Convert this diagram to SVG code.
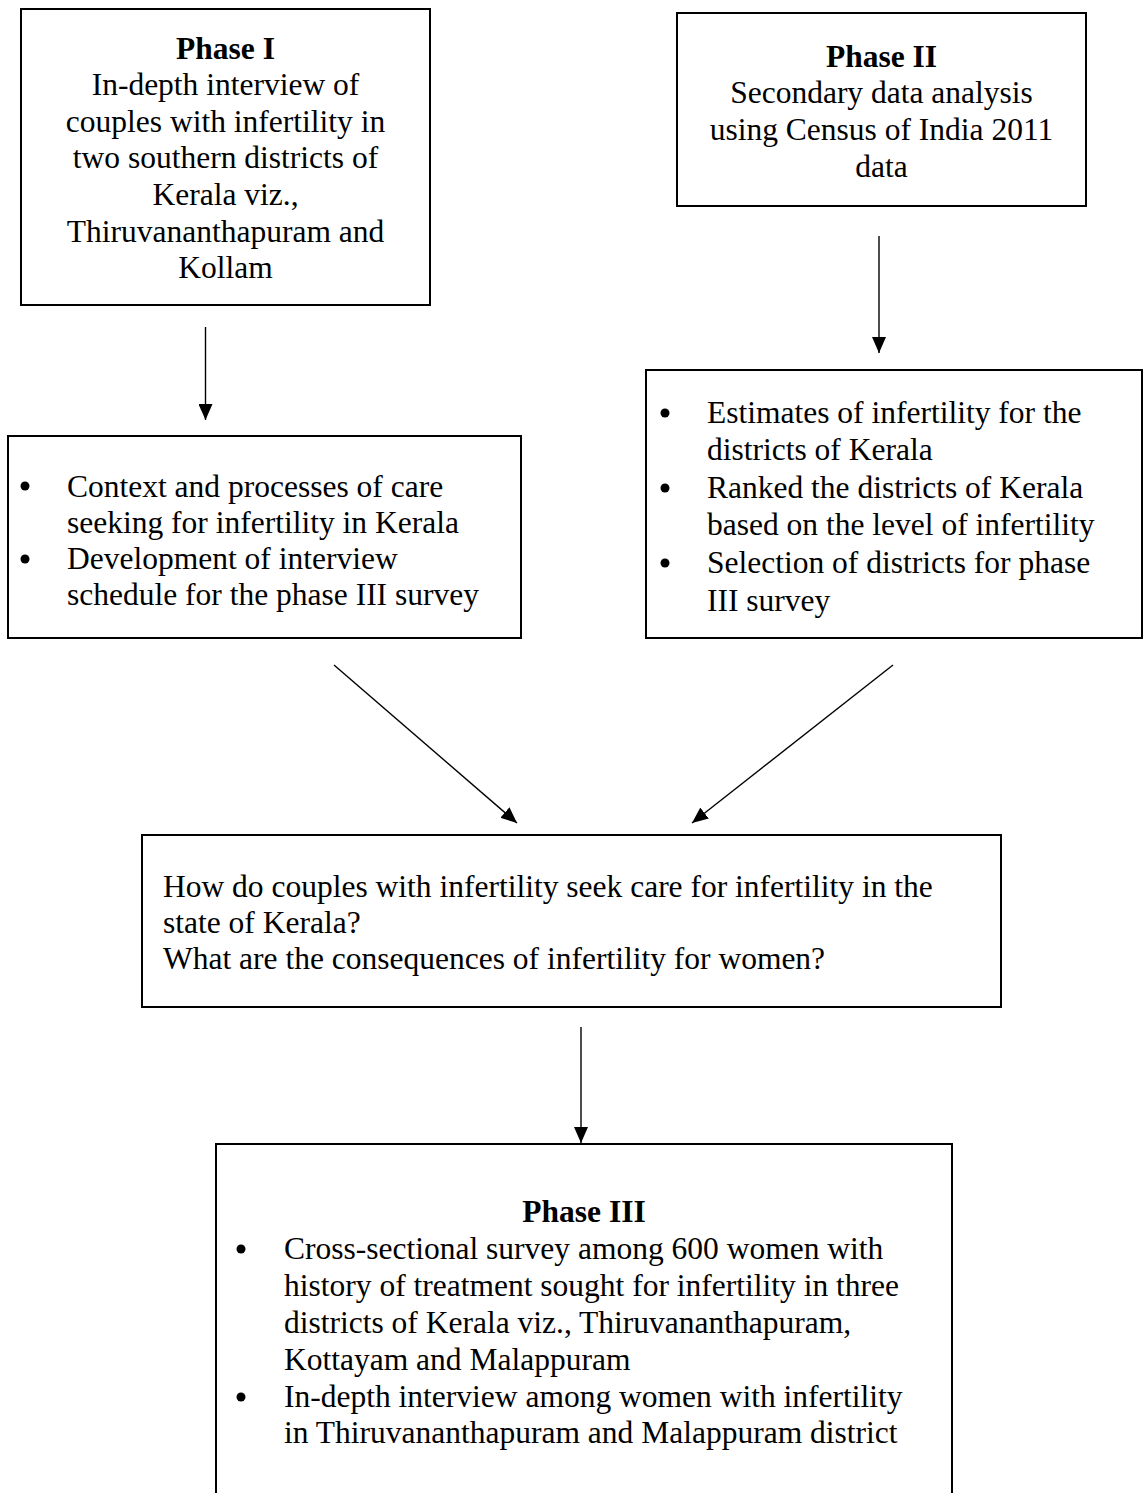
<svg xmlns="http://www.w3.org/2000/svg" width="1143" height="1493" viewBox="0 0 1143 1493">
  <style>
    .box { fill: #ffffff; stroke: #000000; stroke-width: 2; }
    .t { font-family: "Liberation Serif", "Times New Roman", serif; font-size: 31.5px; fill: #000000; }
    .b { font-weight: bold; }
    .c { text-anchor: middle; }
    .dot { fill: #000000; }
    .edge { stroke: #000000; stroke-width: 1.4; fill: none; marker-end: url(#head); }
  </style>
  <defs>
    <marker id="head" viewBox="0 0 16 14" refX="16" refY="7" markerWidth="16" markerHeight="14" markerUnits="userSpaceOnUse" orient="auto">
      <path d="M0,0 L16,7 L0,14 Z" fill="#000000"/>
    </marker>
  </defs>
  <rect width="1143" height="1493" fill="#ffffff"/>

  <!-- Phase I -->
  <g id="phase1">
    <rect class="box" x="21" y="9" width="409" height="296"/>
    <text class="t b c" x="225.5" y="59">Phase I</text>
    <text class="t c" x="225.5" y="95">In-depth interview of</text>
    <text class="t c" x="225.5" y="132">couples with infertility in</text>
    <text class="t c" x="225.5" y="168">two southern districts of</text>
    <text class="t c" x="225.5" y="205">Kerala viz.,</text>
    <text class="t c" x="225.5" y="242">Thiruvananthapuram and</text>
    <text class="t c" x="225.5" y="278">Kollam</text>
  </g>

  <!-- Phase II -->
  <g id="phase2">
    <rect class="box" x="677" y="13" width="409" height="193"/>
    <text class="t b c" x="881.5" y="67">Phase II</text>
    <text class="t c" x="881.5" y="103">Secondary data analysis</text>
    <text class="t c" x="881.5" y="140">using Census of India 2011</text>
    <text class="t c" x="881.5" y="177">data</text>
  </g>

  <!-- Phase I outcomes -->
  <g id="phase1-outcomes">
    <rect class="box" x="8" y="436" width="513" height="202"/>
    <circle class="dot" cx="25" cy="486" r="4.5"/>
    <text class="t" x="67" y="497">Context and processes of care</text>
    <text class="t" x="67" y="533">seeking for infertility in Kerala</text>
    <circle class="dot" cx="25" cy="559" r="4.5"/>
    <text class="t" x="67" y="569">Development of interview</text>
    <text class="t" x="67" y="605">schedule for the phase III survey</text>
  </g>

  <!-- Phase II outcomes -->
  <g id="phase2-outcomes">
    <rect class="box" x="646" y="370" width="496" height="268"/>
    <circle class="dot" cx="665" cy="413" r="4.5"/>
    <text class="t" x="707" y="423">Estimates of infertility for the</text>
    <text class="t" x="707" y="460">districts of Kerala</text>
    <circle class="dot" cx="665" cy="488" r="4.5"/>
    <text class="t" x="707" y="498">Ranked the districts of Kerala</text>
    <text class="t" x="707" y="535">based on the level of infertility</text>
    <circle class="dot" cx="665" cy="563" r="4.5"/>
    <text class="t" x="707" y="573">Selection of districts for phase</text>
    <text class="t" x="707" y="611">III survey</text>
  </g>

  <!-- Research questions -->
  <g id="questions">
    <rect class="box" x="142" y="835" width="859" height="172"/>
    <text class="t" x="163" y="897">How do couples with infertility seek care for infertility in the</text>
    <text class="t" x="163" y="933">state of Kerala?</text>
    <text class="t" x="163" y="969">What are the consequences of infertility for women?</text>
  </g>

  <!-- Phase III -->
  <g id="phase3">
    <rect class="box" x="216" y="1144" width="736" height="370"/>
    <text class="t b c" x="584" y="1222">Phase III</text>
    <circle class="dot" cx="241" cy="1249" r="4.5"/>
    <text class="t" x="284" y="1259">Cross-sectional survey among 600 women with</text>
    <text class="t" x="284" y="1296">history of treatment sought for infertility in three</text>
    <text class="t" x="284" y="1333">districts of Kerala viz., Thiruvananthapuram,</text>
    <text class="t" x="284" y="1370">Kottayam and Malappuram</text>
    <circle class="dot" cx="241" cy="1397" r="4.5"/>
    <text class="t" x="284" y="1407">In-depth interview among women with infertility</text>
    <text class="t" x="284" y="1443">in Thiruvananthapuram and Malappuram district</text>
  </g>

  <!-- Connectors -->
  <g id="connectors">
    <line class="edge" x1="205.5" y1="327" x2="205.5" y2="420"/>
    <line class="edge" x1="879" y1="236" x2="879" y2="353"/>
    <line class="edge" x1="334" y1="665" x2="517" y2="823"/>
    <line class="edge" x1="893" y1="665" x2="692" y2="823"/>
    <line class="edge" x1="581" y1="1027" x2="581" y2="1143"/>
  </g>
</svg>
